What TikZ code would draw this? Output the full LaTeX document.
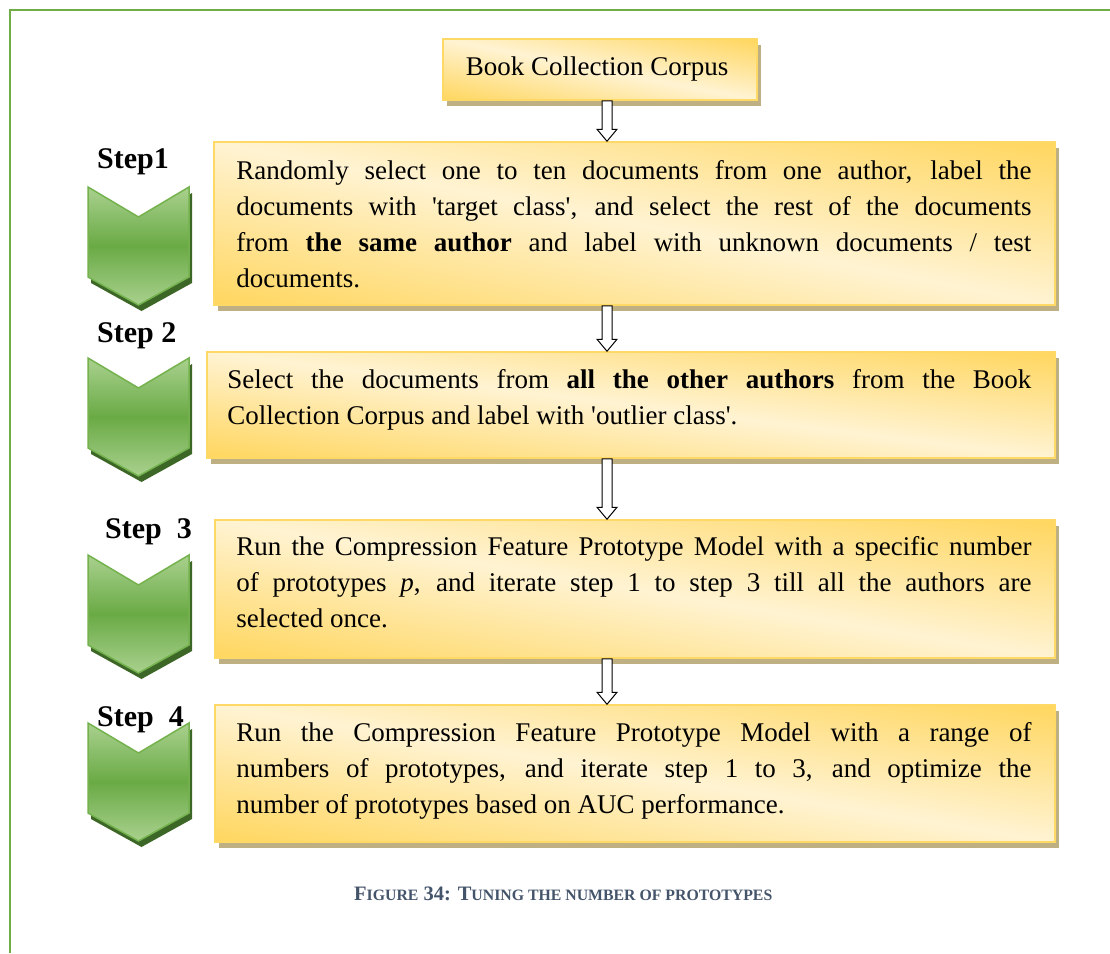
\documentclass[tikz,border=0pt]{standalone}
\usepackage{fontspec}
\setmainfont{Liberation Serif}
\usetikzlibrary{calc,shadows,fit}

\definecolor{frameGreen}{HTML}{70AD47}
\definecolor{boxGold}{HTML}{FFD65E}
\definecolor{boxCream}{HTML}{FFF3D2}
\definecolor{boxEdge}{HTML}{FFD966}
\definecolor{boxShadow}{HTML}{BFB083}
\definecolor{chevLight}{HTML}{A9D18E}
\definecolor{chevMid}{HTML}{6AAA45}
\definecolor{chevEdge}{HTML}{74B24E}
\definecolor{chevShadow}{HTML}{3D6727}
\definecolor{captionBlue}{HTML}{44546A}

% gold-cream-gold fill of the process boxes (path spans 25bp..75bp)
\pgfdeclarehorizontalshading{goldglow}{100bp}{color(0bp)=(boxGold); color(25bp)=(boxGold); color(50bp)=(boxCream); color(75bp)=(boxGold); color(100bp)=(boxGold)}

\tikzset{
  boxframe/.style={draw=boxEdge, line width=1.5pt, inner sep=0pt},
  chevron/.style={draw=chevEdge, line width=1.5pt, line join=miter,
    top color=chevLight, bottom color=chevLight, middle color=chevMid,
    drop shadow={shadow xshift=3pt, shadow yshift=-6pt, fill=chevShadow, opacity=1}},
  hollow/.style={draw=black, fill=white, line width=1pt, line join=miter},
  steplabel/.style={font=\fontsize{30}{36}\selectfont\bfseries, anchor=base west, inner sep=0pt},
  bodytext/.style={font=\fontsize{27}{36}\selectfont, anchor=base west, inner sep=0pt},
}

% one fully justified line of a paragraph
\newcommand\jline[1]{\makebox[\linewidth][s]{#1}\\}
\newcommand\sq{\textquotesingle}

% process box #1 from (#2,#3) to (#4,#5): shadow, diagonal gold fill, edge
\newcommand\goldbox[5]{%
  \pgfmathsetmacro\bw{#4-#2}\pgfmathsetmacro\bh{#5-#3}%
  \pgfmathsetmacro\al{atan(\bh/\bw)}%
  \pgfmathsetmacro\hl{\bh*cos(\al)}%
  \pgfmathsetmacro\hd{0.5*\bw/cos(\al)}%
  \pgfmathsetmacro\rot{90-\al}%
  \fill[boxShadow] (#2+4,#3+6) rectangle (#4+4,#5+6);
  \begin{scope}
    \clip (#2,#3) rectangle (#4,#5);
    \shade[shading=goldglow, transform canvas={shift={({(#2+#4)/2},{(#3+#5)/2})}, rotate=\rot}]
      (-\hl,-\hd) rectangle (\hl,\hd);
  \end{scope}
  \node[boxframe, fit={(#2,#3) (#4,#5)}] (#1) {};}

% green step chevron whose top edge lies at y = #1
\newcommand\stepchevron[1]{%
  \draw[chevron] (88,#1) -- (138.5,#1+30) -- (189,#1) -- (189,#1+90)
    -- (138.5,#1+118) -- (88,#1+90) -- cycle;}

% hollow block arrow from the bottom of #1 to the top of #2
\newcommand\flowarrow[2]{%
  \path (axis |- #1.south) coordinate (tail) (axis |- #2.north) coordinate (head);
  \draw[hollow] ($(tail)+(-5,0)$) -- ($(head)+(-5,-12)$) -- ($(head)+(-10,-12)$) -- (head)
    -- ($(head)+(10,-12)$) -- ($(head)+(5,-12)$) -- ($(tail)+(5,0)$) -- cycle;}

\begin{document}
\begin{tikzpicture}[x=1pt, y=-1pt]
\useasboundingbox (0,0) rectangle (1110,953);
\fill[white] (0,0) rectangle (1110,953);

% page frame
\draw[frameGreen, line width=2pt] (1110,9.5) -- (9.5,9.5) -- (9.5,953);

% boxes
\goldbox{book}{443}{39}{757}{100}
\goldbox{s1}{214}{142}{1055}{305}
\goldbox{s2}{207}{352}{1055}{458}
\goldbox{s3}{215}{520}{1055}{658}
\goldbox{s4}{215}{705}{1055}{842}

% box texts
\node[bodytext, anchor=base] at ($(book.center)+(-3,5.5)$) {Book Collection Corpus};

\node[bodytext] at ($(s1.north west)+(23,38)$) {\parbox[t]{795pt}{%
  \jline{Randomly select one to ten documents from one author, label the}
  \jline{documents with \sq target class\sq, and select the rest of the documents}
  \jline{from \textbf{the same author} and label with unknown documents / test}
  documents.}};

\node[bodytext] at ($(s2.north west)+(21,37)$) {\parbox[t]{804pt}{%
  \jline{Select the documents from \textbf{all the other authors} from the Book}
  Collection Corpus and label with \sq outlier class\sq.}};

\node[bodytext] at ($(s3.north west)+(22,36)$) {\parbox[t]{795pt}{%
  \jline{Run the Compression Feature Prototype Model with a specific number}
  \jline{of prototypes \textit{p}, and iterate step 1 to step 3 till all the authors are}
  selected once.}};

\node[bodytext] at ($(s4.north west)+(22,37)$) {\parbox[t]{795pt}{%
  \jline{Run the Compression Feature Prototype Model with a range of}
  \jline{numbers of prototypes, and iterate step 1 to 3, and optimize the}
  number of prototypes based on AUC performance.}};

% arrows between the boxes
\coordinate (axis) at (607,0);
\flowarrow{book}{s1}
\flowarrow{s1}{s2}
\flowarrow{s2}{s3}
\flowarrow{s3}{s4}

% step chevrons and their labels
\stepchevron{187}
\stepchevron{358}
\stepchevron{555}
\stepchevron{723}
\node[steplabel] (l1) at (97,168) {Step1};
\node[steplabel] (l2) at (97,342) {Step 2};
\node[steplabel] (l3) at (105,538) {Step~~3};
\node[steplabel] (l4) at (97,726) {Step~~4};

% caption
\node[anchor=base west, inner sep=0pt, text=captionBlue] (cap) at (354,900)
  {\bfseries\fontsize{20.5}{24}\selectfont F{\fontsize{15.8}{20}\selectfont IGURE} 34: T{\fontsize{15.8}{20}\selectfont UNING THE NUMBER OF PROTOTYPES}};
\end{tikzpicture}
\end{document}
